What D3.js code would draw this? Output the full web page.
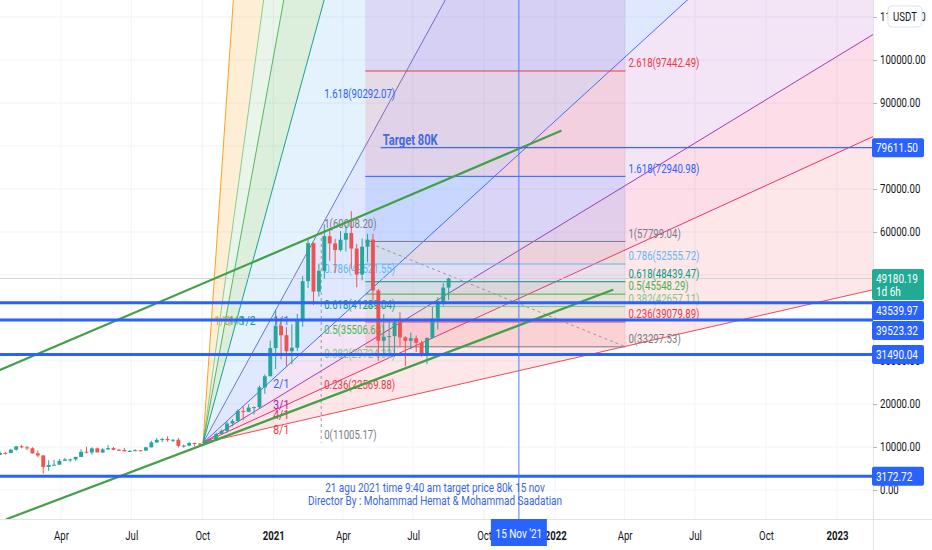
<!DOCTYPE html>
<html>
<head>
<meta charset="utf-8">
<script src="https://cdn.jsdelivr.net/npm/d3@7"></script>
<style>
  body { margin: 0; background: #fff; }
  text { font-family: Roboto, "Liberation Sans", sans-serif; }
</style>
</head>
<body>
<svg></svg>
<script>
// ---- data -------------------------------------------------------------
// weekly BTC/USDT candles, first week starts 2020-01-06
const candleStart = "2020-01-06";
const opens  = [7350,8180,8620,8600,9370,10150,9910,9690,8530,8030,5360,5830,5880,6780,7120,7130,7700,8900,8720,9680,8720,9450,9750,9340,9290,9000,9070,9250,9160,9930,11060,11680,11850,11650,11680,10260,10320,10920,10770,10670,11370,11500,13030,13760,15480,16060,18400,18180,19150,19270,23860,26450,
                33000,38200,36000,32270,33100,39250,48580,57400,46150,50970,59030,57350,55800,58200,59750,56150,50100,56580,58230,46400,34700,35650,35800,39100,35500,34700,35290,34240,31780,35400,39850,43800,47080];
const highs  = [8460,9000,8800,9590,10160,10500,10250,9960,9190,8180,6900,6990,7200,7470,7300,7740,9470,10070,9940,9900,9740,10430,10000,9590,9790,9320,9470,9260,9990,11450,12090,12090,12480,11800,12070,10580,11180,10990,10950,11490,11720,13350,14100,15960,16480,18800,19420,19920,19420,24300,26860,34780,
                41950,40100,37850,38530,40950,49720,58350,57550,52640,61780,60900,58400,60200,61500,64850,57200,58460,59600,59600,46700,40900,39480,39600,41330,35740,36600,35950,34700,35400,42600,44800,48150,49380];
const lows   = [7330,8100,8240,8540,9150,9700,9280,8450,7630,3780,4440,5670,5860,6770,6460,6780,7650,8530,8200,8810,8630,9270,9230,9200,8980,8890,9050,9000,9140,9900,10950,11120,11260,11130,9880,9850,10220,10140,10370,10530,11200,11410,12980,13290,14800,15790,16200,18100,17570,19000,22350,26450,
                28130,30420,28850,29240,32300,37990,47000,43000,45000,49150,53270,50430,55470,55460,51300,47150,48750,53000,43800,30000,31100,31000,31000,33300,28800,32700,32080,31000,29280,35200,37300,42800,44200];
const closes = [8180,8620,8600,9370,10150,9910,9690,8530,8030,5360,5830,5880,6780,7120,7130,7700,8900,8720,9680,8720,9450,9750,9340,9290,9000,9070,9250,9160,9930,11060,11680,11850,11650,11680,10260,10320,10920,10770,10670,11370,11500,13030,13760,15480,16060,18400,18180,19150,19270,23860,26450,33000,
                38200,36000,32270,33100,39250,48580,57400,46150,50970,59030,57350,55800,58200,59750,56150,50100,56580,58230,46400,34700,35650,35800,39100,35500,34700,35290,34240,31780,35400,39850,43800,47080,49180.19];

const priceTicks = [0,10000,20000,30000,40000,50000,60000,70000,80000,90000,100000,110000];
const timeTicks  = ["2020-04-01","2020-07-01","2020-10-01","2021-01-01","2021-04-01","2021-07-01","2021-10-01","2022-01-01","2022-04-01","2022-07-01","2022-10-01","2023-01-01"];

// gann fan: origin and 1/1 corner
const fanStart = ["2020-10-02", 10950];
const fanCorner = ["2020-12-28", 39523.32];
const fanLabels = ["1/8","1/4","1/3","1/2","1/1","2/1","3/1","4/1","8/1"];
const fanSlopes = [8,4,3,2,1,0.5,0.3333,0.25,0.125];

// fib retracements
const fibRatios = ["0","0.236","0.382","0.5","0.618","0.786","1","1.618","2.618","3.618"];
const fib1Date = "2021-03-04";
const fib1Levels = [11005.17,22569.88,29724.33,35506.68,41289.04,49521.55,60008.20,90292.07];
const fib2Dates = ["2021-04-30","2022-04-02"];
const fib2Levels = [33297.53,39079.89,42657.11,45548.29,48439.47,52555.72,57799.04,72940.98,97442.49,121943.99];

// horizontal levels, target, trend lines
const hLevels = [43539.97,39523.32,31490.04,3172.72];
const target = ["2021-11-15", 79611.50];
const targetStart = "2021-05-20";
const lastPrice = 49180.19;
const upperTrend = [["2020-01-13",27900],["2022-01-08",83500]];
const lowerTrend = [["2020-01-22",-6740],["2022-03-16",46510]];

// ---- styles ------------------------------------------------------------
const W = 932, H = 550, plotW = 873, plotH = 519, SX = 0.8;
const up = "#26a69a", down = "#ef5350", blue = "#2962ff";
const fanColors = ["#ff9800","#81c784","#4caf50","#089981","#5c6bc0","#2962ff","#9c27b0","#e91e63","#f23645"];
const fanFills  = ["rgba(255,152,0,0.16)","rgba(76,175,80,0.12)","rgba(76,175,80,0.2)","rgba(33,150,243,0.12)",
                   "rgba(41,98,255,0.15)","rgba(156,39,176,0.12)","rgba(233,30,99,0.15)","rgba(242,54,69,0.12)"];
const fibColors = ["#787b86","#f23645","#81c784","#4caf50","#089981","#64b5f6","#787b86","#2962ff","#f23645","#9c27b0"];

const parse = d3.utcParse("%Y-%m-%d");
const x = d3.scaleUtc().domain([parse("2020-04-01"), parse("2023-01-01")]).range([61, 837]);
const y = d3.scaleLinear().domain([0, 100000]).range([490, 60]);

const svg = d3.select("svg").attr("width", W).attr("height", H)
  .style("display","block").style("background","#fff");

svg.append("clipPath").attr("id","plot").append("rect")
  .attr("width", plotW).attr("height", plotH);

function txt(g, px, py, s, o) {
  return g.append("text")
    .attr("transform", `translate(${px},${py}) scale(${SX},1)`)
    .attr("font-size", o.size || 12)
    .attr("font-weight", o.weight || 400)
    .attr("fill", o.color || "#131722")
    .attr("text-anchor", o.anchor || "start")
    .attr("dy", o.dy || "0.35em")
    .text(s);
}

const plot = svg.append("g").attr("clip-path","url(#plot)");

//grid
plot.append("g").selectAll("line").data(priceTicks).enter().append("line")
  .attr("x1",0).attr("x2",plotW).attr("y1",d=>y(d)).attr("y2",d=>y(d))
  .attr("stroke","#f0f3fa");
plot.append("g").selectAll("line").data(timeTicks).enter().append("line")
  .attr("x1",d=>x(parse(d))).attr("x2",d=>x(parse(d))).attr("y1",0).attr("y2",plotH)
  .attr("stroke","#f0f3fa");

//gann fan
const t0 = parse(fanStart[0]), p0 = fanStart[1];
const t1 = parse(fanCorner[0]), p1 = fanCorner[1];
const tEnd = parse("2024-01-01");
const span = (tEnd - t0) / (t1 - t0);
const fanEnds = fanSlopes.map(k => [x(tEnd), y(p0 + k * (p1 - p0) * span)]);
const ox = x(t0), oy = y(p0);
const fan = plot.append("g");
fan.selectAll("path").data(fanFills).enter().append("path")
  .attr("d", (c,i) => `M${ox},${oy}L${fanEnds[i][0]},${fanEnds[i][1]}L${fanEnds[i+1][0]},${fanEnds[i+1][1]}Z`)
  .attr("fill", c => c);

//fib 2 backgrounds
const f2x1 = x(parse(fib2Dates[0])), f2x2 = x(parse(fib2Dates[1]));
plot.append("g").selectAll("rect").data(fib2Levels.slice(1)).enter().append("rect")
  .attr("x", f2x1).attr("width", f2x2 - f2x1)
  .attr("y", d => y(d)).attr("height", (d,i) => y(fib2Levels[i]) - y(d))
  .attr("fill", (d,i) => fibColors[i+1]).attr("fill-opacity", 0.12);

//fan lines
fan.selectAll("line").data(fanEnds).enter().append("line")
  .attr("x1", ox).attr("y1", oy).attr("x2", d => d[0]).attr("y2", d => d[1])
  .attr("stroke", (d,i) => fanColors[i]).attr("stroke-width", 1).attr("stroke-opacity", 0.9);

//fib 2 lines and trend line
const fib2 = plot.append("g");
fib2.selectAll("line").data(fib2Levels.slice(0,9)).enter().append("line")
  .attr("x1", f2x1).attr("x2", f2x2).attr("y1", d => y(d)).attr("y2", d => y(d))
  .attr("stroke", (d,i) => fibColors[i]).attr("stroke-width", 1);
fib2.append("line")
  .attr("x1", f2x1).attr("y1", y(fib2Levels[6])).attr("x2", f2x2).attr("y2", y(fib2Levels[0]))
  .attr("stroke", "#9598a1").attr("stroke-dasharray", "3,3");

//fib 1 trend line (both points at the same date)
const f1x = x(parse(fib1Date));
plot.append("line")
  .attr("x1", f1x).attr("x2", f1x).attr("y1", y(fib1Levels[6])).attr("y2", y(fib1Levels[0]))
  .attr("stroke", "#9598a1").attr("stroke-dasharray", "3,3");

//fib labels
const labels = plot.append("g");
fib1Levels.forEach((p,i) => {
  txt(labels, f1x + 3, y(p) - 8, `${fibRatios[i]}(${p.toFixed(2)})`, {color: fibColors[i], size: 12});
});
fib2Levels.slice(0,9).forEach((p,i) => {
  txt(labels, f2x2 + 3, y(p) - 8, `${fibRatios[i]}(${p.toFixed(2)})`, {color: fibColors[i], size: 12});
});

//fan labels
fanSlopes.forEach((k,i) => {
  let lx, ly;
  if (k > 1) { lx = x(new Date(+t0 + (t1 - t0) / k)); ly = y(p1); }
  else { lx = x(t1); ly = y(p0 + k * (p1 - p0)); }
  txt(labels, lx + 3, ly + (k < 1 ? 2 : 0), fanLabels[i], {color: fanColors[i], size: 13});
});

//last price line
plot.append("line").attr("x1",0).attr("x2",plotW).attr("y1",y(lastPrice)).attr("y2",y(lastPrice))
  .attr("stroke", "#c8cbd2").attr("stroke-opacity",0.8);

//candles
const dates = closes.map((c,i) => d3.utcDay.offset(parse(candleStart), 7 * i));
const bw = (x(dates[1]) - x(dates[0])) * 0.72;
const candles = plot.append("g").selectAll("g").data(dates).enter().append("g");
candles.append("line")
  .attr("x1", d => x(d)).attr("x2", d => x(d))
  .attr("y1", (d,i) => y(highs[i])).attr("y2", (d,i) => y(lows[i]))
  .attr("stroke", (d,i) => closes[i] >= opens[i] ? up : down);
candles.append("rect")
  .attr("x", d => x(d) - bw/2).attr("width", bw)
  .attr("y", (d,i) => y(Math.max(opens[i], closes[i])))
  .attr("height", (d,i) => Math.max(1, Math.abs(y(opens[i]) - y(closes[i]))))
  .attr("fill", (d,i) => closes[i] >= opens[i] ? up : down);

//trend lines
[upperTrend, lowerTrend].forEach(tl => {
  plot.append("line")
    .attr("x1", x(parse(tl[0][0]))).attr("y1", y(tl[0][1]))
    .attr("x2", x(parse(tl[1][0]))).attr("y2", y(tl[1][1]))
    .attr("stroke", "#43a047").attr("stroke-width", 2.2).attr("stroke-linecap","round");
});

//horizontal levels
plot.append("g").selectAll("line").data(hLevels).enter().append("line")
  .attr("x1",0).attr("x2",plotW).attr("y1",d=>y(d)).attr("y2",d=>y(d))
  .attr("stroke", blue).attr("stroke-width", 3);

//target
const tx = x(parse(target[0]));
plot.append("line").attr("x1", x(parse(targetStart))).attr("x2", plotW)
  .attr("y1", y(target[1])).attr("y2", y(target[1])).attr("stroke", "#3f6ae0").attr("stroke-width", 1.2);
txt(plot, x(parse(targetStart)) + 2, y(target[1]) - 8, "Target 80K", {color: "#3f6ae0", size: 14, weight: 700});
plot.append("line").attr("x1", tx).attr("x2", tx).attr("y1", 0).attr("y2", plotH)
  .attr("stroke", "#4f7cf7").attr("stroke-width", 1);

//note
txt(plot, 435, 488, "21 agu 2021 time 9:40 am target price 80k 15 nov", {color: "#3a66e0", size: 12.5, anchor: "middle"});
txt(plot, 435, 501, "Director By : Mohammad Hemat & Mohammad Saadatian", {color: "#3a66e0", size: 12.5, anchor: "middle"});

//axis frame
svg.append("line").attr("x1", plotW+0.5).attr("x2", plotW+0.5).attr("y1",0).attr("y2",H).attr("stroke","#e0e3eb");
svg.append("line").attr("x1", 0).attr("x2", W).attr("y1",plotH+0.5).attr("y2",plotH+0.5).attr("stroke","#e0e3eb");

//axis badges, stacked downward when they collide (like the price scale does)
const badgeDefs = [
  {p: target[1], color: blue, lines: [target[1].toFixed(2)]},
  {p: lastPrice, color: "#22ab94", lines: [lastPrice.toFixed(2), "1d 6h"]}
].concat(hLevels.map(p => ({p: p, color: blue, lines: [p.toFixed(2)]})));
badgeDefs.sort((a,b) => y(a.p) - y(b.p));
let lastBottom = -Infinity;
badgeDefs.forEach(b => {
  b.h = b.lines.length === 1 ? 19 : 31;
  b.top = Math.max(y(b.p) - 9.5, lastBottom + 1);
  lastBottom = b.top + b.h;
});
const covered = v => badgeDefs.some(b => v >= b.top && v <= b.top + b.h);

//price axis
const yAxis = svg.append("g").attr("transform", `translate(${plotW},0)`)
  .call(d3.axisRight(y).tickValues(priceTicks).tickSize(4).tickFormat(d3.format(".2f")));
yAxis.select(".domain").remove();
yAxis.selectAll("line").attr("stroke", "#b2b5be");
yAxis.selectAll("text").attr("x", 7 / SX).attr("transform", `scale(${SX},1)`)
  .attr("font-size", 12).attr("fill", "#131722");
yAxis.selectAll(".tick").filter(d => covered(y(d) - 5) && covered(y(d) + 5)).remove();

//time axis
const xAxis = svg.append("g").attr("transform", `translate(0,${plotH})`)
  .call(d3.axisBottom(x).tickValues(timeTicks.map(parse)).tickSize(0)
    .tickFormat(d => d.getUTCMonth() === 0 ? d3.utcFormat("%Y")(d) : d3.utcFormat("%b")(d)));
xAxis.select(".domain").remove();
xAxis.selectAll("text").attr("y", 12).attr("transform", `scale(${SX},1)`)
  .attr("x", 0).attr("font-size", 12).attr("fill", "#131722")
  .attr("font-weight", d => d.getUTCMonth() === 0 ? 700 : 400);

badgeDefs.forEach(b => {
  const g = svg.append("g");
  g.append("rect").attr("x", plotW - 1).attr("y", b.top).attr("width", 52).attr("height", b.h)
    .attr("rx", 2).attr("fill", b.color);
  b.lines.forEach((s,i) => txt(g, plotW + 3, b.top + 9.5 + i * 13, s, {color: "#fff", size: 12.5}));
});

// currency badge
svg.append("rect").attr("x", 888).attr("y", 6).attr("width", 34).attr("height", 21).attr("rx", 4)
  .attr("fill", "#fff").attr("stroke", "#e0e3eb");
txt(svg, 905, 17, "USDT", {size: 12, anchor: "middle"});

// time badge
const tb = svg.append("g");
tb.append("rect").attr("x", tx - 28).attr("y", plotH).attr("width", 56).attr("height", 27).attr("fill", blue);
txt(tb, tx, plotH + 15, "15 Nov '21", {color: "#fff", size: 12.5, anchor: "middle"});
</script>
</body>
</html>
